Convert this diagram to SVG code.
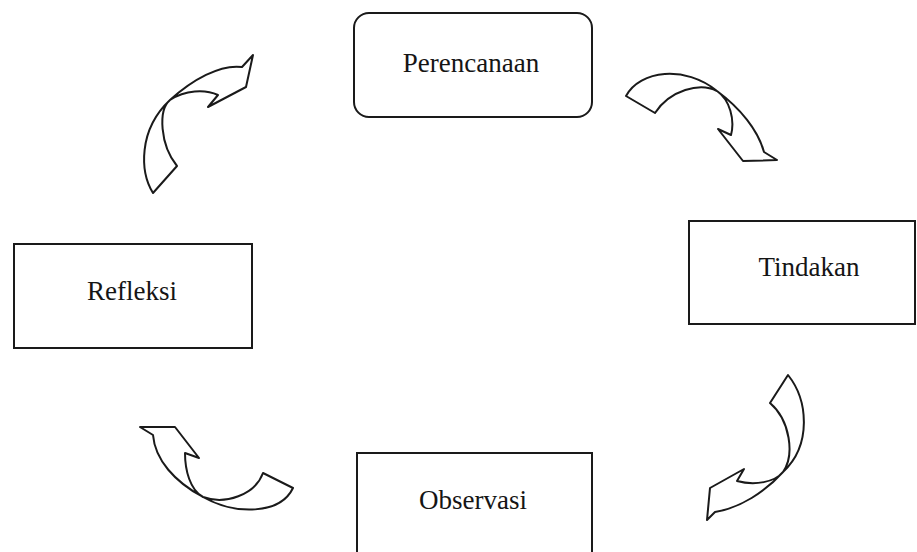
<svg xmlns="http://www.w3.org/2000/svg" width="917" height="552" viewBox="0 0 917 552">
<style>
.box{fill:none;stroke:#1a1a1a;stroke-width:2}
.lbl{font-family:"Liberation Serif","Times New Roman",serif;font-size:27px;fill:#151515;text-anchor:middle}
.arr{fill:none;stroke:#1a1a1a;stroke-width:2;stroke-linejoin:round}
</style>
<rect width="917" height="552" fill="#ffffff"/>
<g id="perencanaan">
<rect class="box" x="354" y="13" width="238" height="104" rx="15" ry="15"/>
<text class="lbl" x="471" y="72">Perencanaan</text>
</g>
<g id="tindakan">
<rect class="box" x="689" y="221" width="226" height="103"/>
<text class="lbl" x="809" y="276">Tindakan</text>
</g>
<g id="observasi">
<rect class="box" x="357" y="453" width="235" height="110"/>
<text class="lbl" x="473" y="509">Observasi</text>
</g>
<g id="refleksi">
<rect class="box" x="14" y="244" width="238" height="104"/>
<text class="lbl" x="132" y="300">Refleksi</text>
</g>
<g id="connectors">
<path class="arr" d="M153,193 C140,172 138,130 170,100 C192,80 220,64 242,67 L253,55 L246,87 L208,107 L218,95 C205,89 185,90 170,100 C158,110 160,145 177,166 Z"/>
<path class="arr" d="M626,96 C640,70 685,65 717,91 C740,108 758,130 764,152 L777,160 L743,161 L718,129 L731,135 C735,120 730,100 717,91 C700,82 670,90 655,113 Z"/>
<path class="arr" d="M788,375 C808,400 812,445 783,472 C765,492 740,508 715,512 L707,520 L710,488 L744,469 L737,481 C755,486 775,482 783,472 C795,455 790,420 770,403 Z"/>
<path class="arr" d="M293,488 C280,515 235,515 203,497 C175,482 155,460 153,435 L140,427 L175,427 L199,458 L185,453 C185,470 190,490 203,497 C225,505 255,495 263,473 Z"/>
</g>
</svg>
